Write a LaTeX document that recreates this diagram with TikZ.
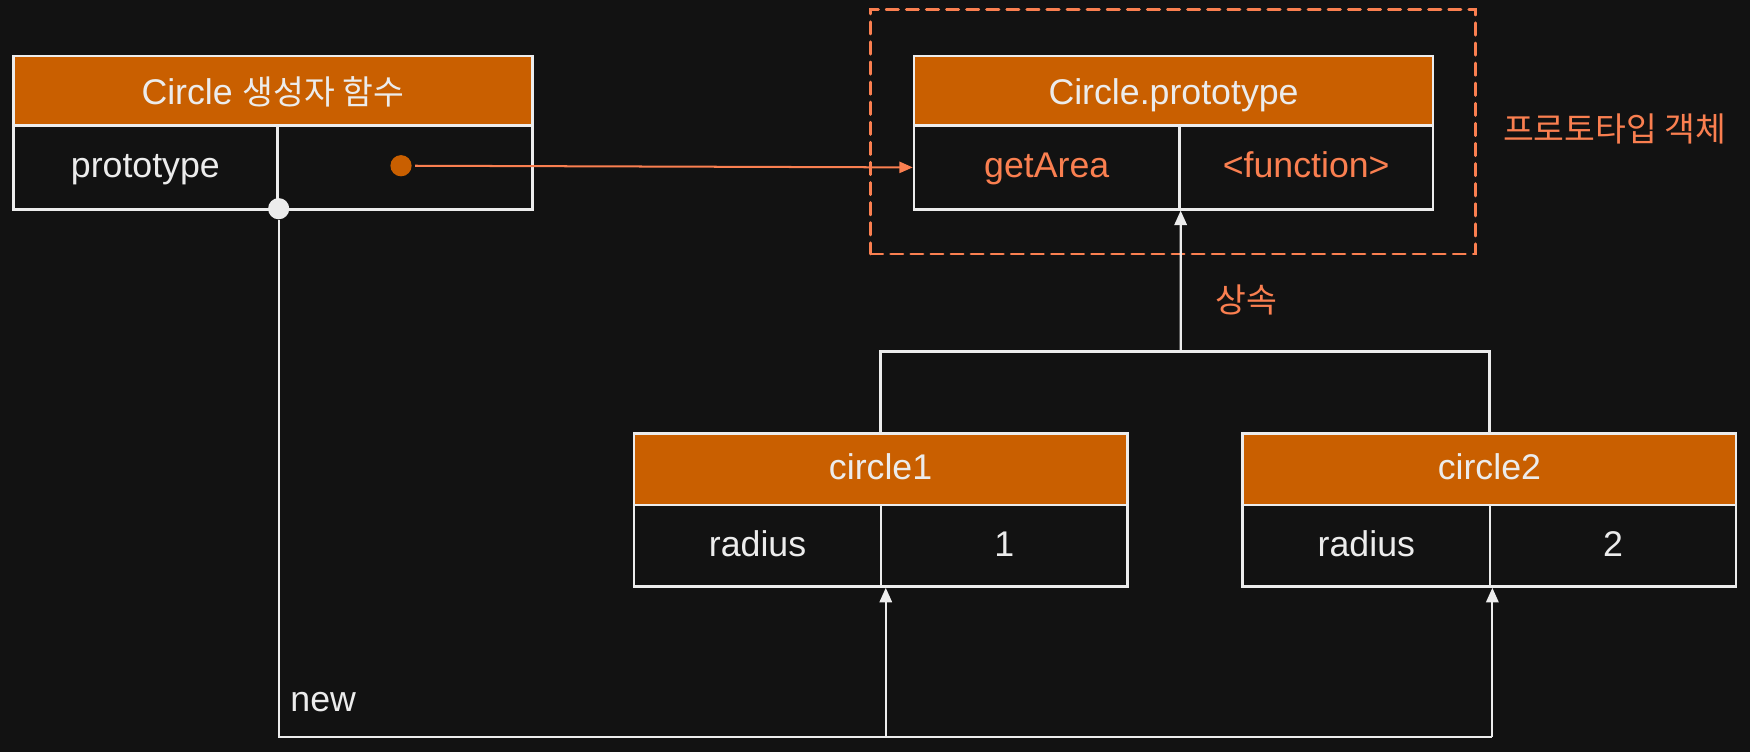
\documentclass[tikz,border=0pt]{standalone}
\usepackage{fontspec}
\setmainfont{Liberation Sans}
\newfontfamily\cjk{Noto Sans CJK KR}
\usetikzlibrary{arrows.meta}
\definecolor{bgc}{RGB}{18,18,18}
\definecolor{hdr}{RGB}{201,95,0}
\definecolor{coral}{RGB}{250,127,80}
\definecolor{ink}{RGB}{236,236,236}
\newcommand{\ko}[1]{{\cjk\fontsize{30}{36}\selectfont #1}}
\begin{document}
\begin{tikzpicture}[x=1pt,y=-1pt,
  every node/.style={font=\fontsize{32}{38}\selectfont, text=ink},
  head/.style={draw=ink, line width=2.3pt, fill=hdr, inner sep=0pt, text height=19pt, text depth=0pt},
  cell/.style={draw=ink, line width=2.3pt, inner sep=0pt, text height=18.5pt, text depth=0pt},
  link/.style={draw=ink, line width=2pt},
  tipw/.style={-{Triangle[length=13pt,width=11pt]}},
  lbl/.style={anchor=base west, inner sep=0pt},
]
\fill[bgc] (0,0) rectangle (1568,673.8);
\useasboundingbox (0,0) rectangle (1568,673.8);

% Circle constructor
\node[head, text height=24pt, minimum width=465pt, minimum height=62.5pt] (lhead) at (244.5,81.25) {Circle \ko{생성자 함수}};
\node[cell, minimum width=236.5pt, minimum height=75pt] (lkey) at (130.25,150) {prototype};
\node[cell, minimum width=228.5pt, minimum height=75pt] (lval) at (362.75,150) {};

% Circle.prototype
\node[head, text height=24pt, minimum width=465pt, minimum height=62.5pt] (phead) at (1051.5,81.25) {Circle.prototype};
\node[cell, text=coral, minimum width=237.7pt, minimum height=75pt] (pkey) at (937.85,150) {getArea};
\node[cell, text=coral, minimum width=227.3pt, minimum height=75pt] (pval) at (1170.35,150) {<function>};

% group
\node[draw=coral, line width=2.5pt, dash pattern=on 11pt off 7pt, line cap=round, minimum width=542pt, minimum height=219pt] (grp) at (1051,118) {};
\node[lbl, text=coral] (lblproto) at (1346.5,126.5) {\ko{프로토타입 객체}};

% circle1
\node[head, minimum width=442pt, minimum height=64pt] (c1head) at (789,420.5) {circle1};
\node[cell, minimum width=221.5pt, minimum height=73pt] (c1key) at (678.75,489) {radius};
\node[cell, minimum width=220.5pt, minimum height=73pt] (c1val) at (899.75,489) {1};

% circle2
\node[head, minimum width=442pt, minimum height=64pt] (c2head) at (1334.5,420.5) {circle2};
\node[cell, minimum width=221.5pt, minimum height=73pt] (c2key) at (1224.25,489) {radius};
\node[cell, minimum width=220.5pt, minimum height=73pt] (c2val) at (1445.25,489) {2};

% labels
\node[lbl, text=coral] (lblinh) at (1088.7,280) {\ko{상속}};
\node[lbl] (lblnew) at (260,637.7) {new};

% dots
\node[circle, fill=hdr, minimum size=19pt, inner sep=0pt] (odot) at (359.3,148.5) {};
\node[circle, fill=ink, minimum size=19pt, inner sep=0pt] (ldot) at (249.7,187) {};

% prototype link
\draw[coral, line width=1.8pt, -{Triangle[length=12pt,width=10pt]}, shorten <=3pt] (odot.east) -- (pkey.west);

% inheritance
\coordinate (inh) at (1058,315);
\draw[link] (c1head.north) -- (c1head.north |- inh) -- (c2head.north |- inh) -- (c2head.north);
\draw[link, tipw] (inh) -- (pkey.south east);

% new
\coordinate (bot) at (249.7,660.5);
\coordinate (a1) at ([xshift=3pt]c1key.south east);
\coordinate (a2) at ([xshift=1pt]c2key.south east);
\draw[link] (ldot.south) -- (bot) -- (a2 |- bot);
\draw[link, tipw] (a1 |- bot) -- (a1);
\draw[link, tipw] (a2 |- bot) -- (a2);
\end{tikzpicture}
\end{document}
